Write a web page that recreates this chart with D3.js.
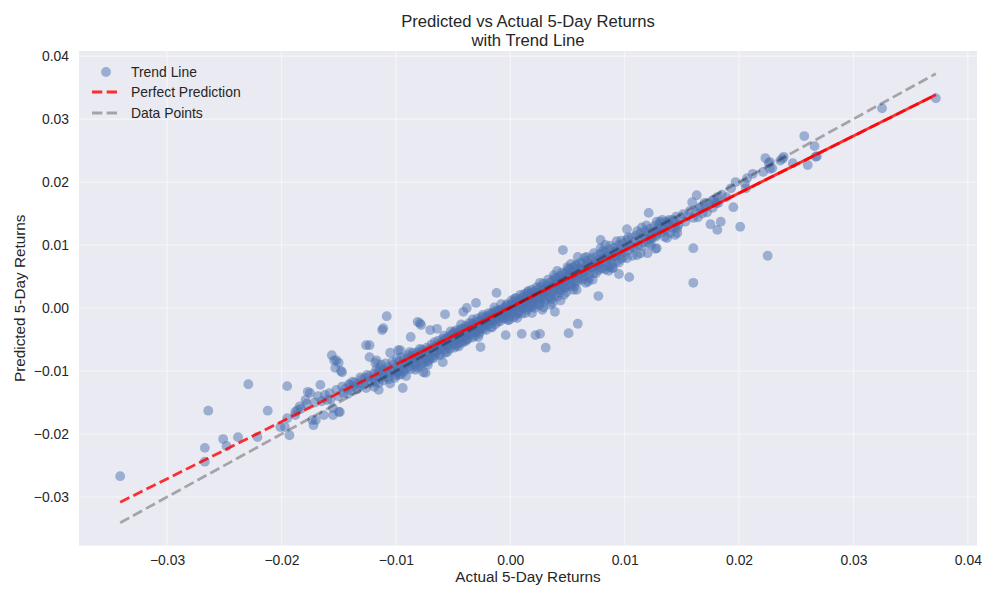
<!DOCTYPE html>
<html><head><meta charset="utf-8">
<script src="https://cdn.jsdelivr.net/npm/d3@7"></script>
<style>
body{margin:0;background:#fff}
text{font-family:"Liberation Sans",Arial,sans-serif;fill:#262626}
</style>
</head><body>
<svg id="chart" width="1000" height="600"></svg>
<script>
// ---- data (actual return, predicted return) ----
const tailPoints = [
[-0.0341,-0.0267],[-0.0264,-0.0163],[-0.0267,-0.0222],[-0.0267,-0.0244],[-0.0251,-0.0208],[-0.0248,-0.0219],[-0.0238,-0.0205],[-0.0229,-0.0121],[-0.0221,-0.0205],[-0.0212,-0.0163],
[-0.0201,-0.0189],[-0.0197,-0.0189],[-0.0193,-0.0202],[-0.0195,-0.0175],[-0.0195,-0.0124],[-0.0188,-0.0165],[-0.0186,-0.0162],[-0.0188,-0.0170],[-0.0184,-0.0156],[-0.0179,-0.0146],[-0.0177,-0.0133],[-0.0175,-0.0135],[-0.0173,-0.0178],[-0.0172,-0.0186],[-0.0170,-0.0178],[-0.0166,-0.0122],[-0.0163,-0.0170],[-0.0160,-0.0146],[-0.0155,-0.0159],[-0.0155,-0.0170],[-0.0156,-0.0075],[-0.0154,-0.0083],[-0.0152,-0.0083],[-0.0150,-0.0087],[-0.0153,-0.0095],[-0.0150,-0.0165],[-0.0149,-0.0165],[-0.0148,-0.0100],
[-0.0183,-0.0160],[-0.0178,-0.0152],[-0.0171,-0.0150],[-0.0168,-0.0140],[-0.0165,-0.0148],[-0.0162,-0.0138],[-0.0158,-0.0135],[-0.0157,-0.0145],[-0.0152,-0.0130],[-0.0150,-0.0140],[-0.0147,-0.0125],[-0.0146,-0.0135],
[-0.0147,-0.0102],[-0.0140,-0.0122],[-0.0138,-0.0117],[-0.0131,-0.0110],[-0.0125,-0.0106],[-0.0126,-0.0059],[-0.0123,-0.0059],[-0.0123,-0.0078],[-0.0117,-0.0083],[-0.0118,-0.0087],[-0.0114,-0.0095],[-0.0115,-0.0130],[-0.0112,-0.0035],[-0.0111,-0.0032],[-0.0108,-0.0013],[-0.0105,-0.0071],[-0.0099,-0.0103],[-0.0098,-0.0067],[-0.0096,-0.0067],[-0.0094,-0.0127]
];
const outlierPoints = [
[-0.0087,-0.0046],[-0.0081,-0.0022],[-0.0078,-0.0027],[-0.0070,-0.0035],[-0.0064,-0.0033],[-0.0076,-0.0102],[-0.0087,-0.0079],[-0.0057,-0.0010],[-0.0030,0.0008],[-0.0041,-0.0006],[-0.0038,0.0000],[-0.0026,-0.0062],[-0.0059,-0.0086],[-0.0004,-0.0043],[0.0010,-0.0041],[0.0022,-0.0043],[0.0026,-0.0041],[0.0031,-0.0063],[0.0019,-0.0008],[0.0028,-0.0003],[0.0039,-0.0006],[-0.0012,0.0024],[-0.0079,-0.0024],[-0.0074,-0.0103],[0.0051,-0.0040],[0.0059,-0.0025],[0.0077,0.0019],[0.0095,0.0054],[0.0104,0.0049],[0.0046,0.0092],[0.0059,0.0081],
[0.0121,0.0151],[0.0102,0.0125],[0.0079,0.0108],[0.0127,0.0094],[0.0114,0.0087],[0.0087,0.0065],[0.0066,0.0040],[0.0135,0.0113],[0.0137,0.0135],[0.0127,0.0121]
];
const upperPoints = [
[0.0223,0.0238],[0.0239,0.0240],[0.0226,0.0230],[0.0227,0.0221],[0.0221,0.0216],[0.0197,0.0200],[0.0207,0.0206],[0.0205,0.0198],[0.0225,0.0083],[0.0201,0.0129],[0.0195,0.0160],[0.0160,0.0095],[0.0181,0.0124],[0.0175,0.0133],[0.0184,0.0137],[0.0163,0.0179],[0.0159,0.0168],[0.0166,0.0160],[0.0164,0.0144],[0.0170,0.0167],[0.0177,0.0171],[0.0181,0.0176],[0.0182,0.0167],[0.0172,0.0152],[0.0177,0.0159],
[0.0128,0.0137],[0.0133,0.0140],[0.0138,0.0137],[0.0142,0.0140],[0.0144,0.0129],[0.0140,0.0119],[0.0146,0.0119],[0.0134,0.0124],[0.0127,0.0113],[0.0122,0.0113],[0.0128,0.0095],
[0.0160,0.0040],[0.0247,0.0230],[0.0260,0.0227],[0.0267,0.0240],[0.0266,0.0257],[0.0212,0.0213],[0.0206,0.0190],
[0.0131,0.0137],[0.0144,0.0116],[0.0146,0.0127],[0.0137,0.0111],[0.0128,0.0119],[0.0121,0.0103],[0.0111,0.0084],[0.0120,0.0087],[0.0102,0.0079],
[0.0372,0.0333],[0.0325,0.0317],[0.0257,0.0273],[0.0268,0.0241],[0.0238,0.0237],[0.0236,0.0234],[0.0227,0.0232],[0.0229,0.0222]
];
const bandNegPoints = [
[-0.0144,-0.0128],[-0.0142,-0.0136],[-0.0141,-0.0121],[-0.0139,-0.0131],[-0.0137,-0.0125],[-0.0136,-0.0118],[-0.0134,-0.0129],[-0.0133,-0.0120],[-0.0131,-0.0124],[-0.0130,-0.0114],[-0.0128,-0.0121],[-0.0127,-0.0111],[-0.0126,-0.0127],[-0.0124,-0.0116],[-0.0123,-0.0108],[-0.0121,-0.0119],[-0.0120,-0.0112],[-0.0119,-0.0104],[-0.0118,-0.0117],[-0.0116,-0.0108],[-0.0115,-0.0101],[-0.0114,-0.0112],[-0.0112,-0.0105],[-0.0111,-0.0098],[-0.0110,-0.0109],[-0.0108,-0.0101],[-0.0107,-0.0094],[-0.0106,-0.0113],[-0.0105,-0.0103],[-0.0104,-0.0096],[-0.0102,-0.0090],[-0.0101,-0.0100],[-0.0100,-0.0107],
[-0.0099,-0.0092],[-0.0098,-0.0101],[-0.0097,-0.0085],[-0.0096,-0.0094],[-0.0095,-0.0088],[-0.0094,-0.0099],[-0.0093,-0.0082],[-0.0092,-0.0090],[-0.0091,-0.0096],[-0.0090,-0.0079],[-0.0089,-0.0087],[-0.0088,-0.0093],[-0.0087,-0.0083],[-0.0086,-0.0076],[-0.0085,-0.0089],[-0.0084,-0.0080],[-0.0083,-0.0086],[-0.0082,-0.0074],[-0.0081,-0.0095],[-0.0080,-0.0078],[-0.0079,-0.0083],[-0.0078,-0.0071],[-0.0077,-0.0088],[-0.0076,-0.0075],[-0.0075,-0.0068],[-0.0074,-0.0080],[-0.0073,-0.0072],[-0.0072,-0.0085],[-0.0071,-0.0066],[-0.0070,-0.0074],[-0.0069,-0.0079],[-0.0068,-0.0063],[-0.0067,-0.0070],[-0.0066,-0.0076],[-0.0065,-0.0061],[-0.0064,-0.0068],[-0.0063,-0.0058],[-0.0062,-0.0073],[-0.0061,-0.0064],[-0.0060,-0.0055],[-0.0095,-0.0105],[-0.0088,-0.0070],[-0.0083,-0.0098],[-0.0079,-0.0065],[-0.0072,-0.0090],[-0.0066,-0.0054],
[-0.0059,-0.0060],[-0.0058,-0.0052],[-0.0057,-0.0066],[-0.0056,-0.0049],[-0.0056,-0.0057],[-0.0055,-0.0061],[-0.0054,-0.0045],[-0.0053,-0.0053],[-0.0052,-0.0058],[-0.0051,-0.0047],[-0.0050,-0.0041],[-0.0050,-0.0052],[-0.0049,-0.0063],[-0.0048,-0.0044],[-0.0047,-0.0050],[-0.0046,-0.0039],[-0.0045,-0.0047],[-0.0045,-0.0056],[-0.0044,-0.0036],[-0.0043,-0.0042],[-0.0042,-0.0049],[-0.0041,-0.0033],[-0.0040,-0.0040],[-0.0040,-0.0046],[-0.0039,-0.0053],[-0.0038,-0.0031],[-0.0037,-0.0037],[-0.0036,-0.0043],[-0.0035,-0.0028],[-0.0035,-0.0034],[-0.0034,-0.0040],[-0.0033,-0.0047],[-0.0032,-0.0026],[-0.0031,-0.0031],[-0.0030,-0.0036],[-0.0029,-0.0022],[-0.0029,-0.0029],[-0.0028,-0.0034],[-0.0027,-0.0041],[-0.0026,-0.0020],[-0.0025,-0.0025],[-0.0024,-0.0030],[-0.0023,-0.0016],[-0.0023,-0.0023],[-0.0022,-0.0028],[-0.0021,-0.0035],[-0.0020,-0.0013],[-0.0055,-0.0070],[-0.0052,-0.0037],[-0.0047,-0.0060],[-0.0043,-0.0026],[-0.0038,-0.0050],[-0.0033,-0.0018],[-0.0031,-0.0044],[-0.0026,-0.0033],[-0.0024,-0.0011],[-0.0058,-0.0044],[-0.0049,-0.0038],[-0.0042,-0.0055],[-0.0036,-0.0024],[-0.0028,-0.0046]
];
const bandCenterPoints = [
[-0.0020,-0.0021],[-0.0019,-0.0026],[-0.0019,-0.0014],[-0.0018,-0.0019],[-0.0017,-0.0009],[-0.0017,-0.0023],[-0.0016,-0.0015],[-0.0015,-0.0020],[-0.0015,-0.0008],[-0.0014,-0.0013],[-0.0013,-0.0018],[-0.0013,-0.0026],[-0.0012,-0.0006],[-0.0011,-0.0011],[-0.0011,-0.0016],[-0.0010,-0.0004],[-0.0009,-0.0009],[-0.0009,-0.0021],[-0.0008,-0.0013],[-0.0007,-0.0002],[-0.0007,-0.0007],[-0.0006,-0.0012],[-0.0005,-0.0017],[-0.0005,0.0001],[-0.0004,-0.0005],[-0.0003,-0.0010],[-0.0003,0.0004],[-0.0002,-0.0002],[-0.0001,-0.0007],[-0.0001,-0.0014],[0.0000,0.0002],[0.0001,-0.0003],[0.0001,0.0006],[0.0002,-0.0008],[0.0003,0.0003],[0.0003,0.0010],[0.0004,-0.0002],[0.0005,0.0005],[0.0005,-0.0011],[0.0006,0.0012],[0.0007,0.0001],[0.0007,0.0008],[0.0008,-0.0004],[0.0009,0.0014],[0.0009,0.0004],[0.0010,0.0010],[0.0011,-0.0001],[0.0011,0.0017],[0.0012,0.0007],[0.0013,0.0013],[0.0013,0.0001],[0.0014,0.0020],[0.0015,0.0010],[0.0015,-0.0003],[0.0016,0.0016],[0.0017,0.0006],[0.0017,0.0023],[0.0018,0.0013],[0.0019,0.0002],[0.0019,0.0019],[0.0020,0.0009],[-0.0016,-0.0031],[-0.0008,0.0006],[-0.0002,-0.0019],[0.0004,0.0015],[0.0010,-0.0009],[0.0016,0.0027],[-0.0014,0.0001],[0.0006,-0.0016],[0.0012,0.0022]
];
const bandPosPoints = [
[0.0021,0.0016],[0.0021,0.0026],[0.0022,0.0006],[0.0023,0.0021],[0.0024,0.0013],[0.0024,0.0030],[0.0025,0.0018],[0.0026,0.0008],[0.0027,0.0025],[0.0027,0.0034],[0.0028,0.0015],[0.0029,0.0022],[0.0030,0.0030],[0.0030,0.0010],[0.0031,0.0026],[0.0032,0.0036],[0.0033,0.0019],[0.0033,0.0029],[0.0034,0.0040],[0.0035,0.0024],[0.0036,0.0014],[0.0036,0.0033],[0.0037,0.0043],[0.0038,0.0028],[0.0039,0.0037],[0.0039,0.0020],[0.0040,0.0046],[0.0041,0.0032],[0.0042,0.0041],[0.0042,0.0024],[0.0043,0.0050],[0.0044,0.0036],[0.0045,0.0045],[0.0045,0.0028],[0.0046,0.0053],[0.0047,0.0040],[0.0048,0.0049],[0.0048,0.0032],[0.0049,0.0057],[0.0050,0.0044],[0.0051,0.0053],[0.0051,0.0036],[0.0052,0.0061],[0.0053,0.0048],[0.0054,0.0057],[0.0054,0.0040],[0.0055,0.0064],[0.0056,0.0051],[0.0057,0.0060],[0.0057,0.0043],[0.0058,0.0068],[0.0059,0.0055],[0.0060,0.0047],[0.0026,0.0040],[0.0035,0.0005],[0.0041,0.0059],[0.0047,0.0021],[0.0053,0.0070],[0.0056,0.0034],[0.0029,0.0001],[0.0038,0.0052],[0.0044,0.0012],[0.0050,0.0065],[0.0058,0.0029],
[0.0061,0.0062],[0.0062,0.0054],[0.0063,0.0071],[0.0064,0.0058],[0.0065,0.0049],[0.0066,0.0066],[0.0067,0.0075],[0.0068,0.0061],[0.0069,0.0053],[0.0070,0.0070],[0.0071,0.0079],[0.0072,0.0064],[0.0073,0.0056],[0.0074,0.0073],[0.0075,0.0082],[0.0076,0.0068],[0.0077,0.0060],[0.0078,0.0077],[0.0079,0.0086],[0.0080,0.0071],[0.0081,0.0063],[0.0082,0.0080],[0.0083,0.0089],[0.0084,0.0075],[0.0085,0.0067],[0.0086,0.0084],[0.0087,0.0093],[0.0088,0.0078],[0.0089,0.0070],[0.0090,0.0087],[0.0091,0.0096],[0.0092,0.0082],[0.0093,0.0074],[0.0094,0.0091],[0.0095,0.0100],[0.0096,0.0086],[0.0097,0.0078],[0.0098,0.0094],[0.0099,0.0103],[0.0100,0.0089],[0.0065,0.0080],[0.0072,0.0045],[0.0079,0.0095],[0.0086,0.0059],[0.0093,0.0106],[0.0068,0.0042],[0.0083,0.0100],[0.0090,0.0064],
[0.0101,0.0097],[0.0102,0.0108],[0.0104,0.0092],[0.0105,0.0101],[0.0106,0.0112],[0.0108,0.0096],[0.0109,0.0106],[0.0110,0.0115],[0.0112,0.0100],[0.0113,0.0110],[0.0114,0.0119],[0.0116,0.0104],[0.0117,0.0114],[0.0118,0.0122],[0.0120,0.0108],[0.0121,0.0118],[0.0122,0.0126],[0.0124,0.0112],[0.0125,0.0121],[0.0126,0.0130],[0.0128,0.0116],[0.0129,0.0125],[0.0130,0.0133],[0.0132,0.0120],[0.0133,0.0128],[0.0135,0.0136],[0.0136,0.0124],[0.0138,0.0132],[0.0139,0.0140],[0.0107,0.0083],[0.0115,0.0128],[0.0123,0.0100],
[0.0141,0.0128],[0.0143,0.0137],[0.0145,0.0145],[0.0147,0.0132],[0.0149,0.0141],[0.0151,0.0149],[0.0153,0.0137],[0.0155,0.0146],[0.0157,0.0154],[0.0160,0.0143],[0.0162,0.0152],[0.0165,0.0158],[0.0168,0.0150],[0.0171,0.0160],[0.0174,0.0165],[0.0178,0.0172],[0.0180,0.0166],[0.0185,0.0180],[0.0189,0.0176],[0.0193,0.0190]
];
const bandExtraPoints = [
[-0.0119,-0.0125],[-0.0117,-0.0097],[-0.0115,-0.0119],[-0.0113,-0.0090],[-0.0111,-0.0115],[-0.0109,-0.0088],[-0.0107,-0.0110],[-0.0105,-0.0120],[-0.0103,-0.0085],[-0.0101,-0.0111],[-0.0099,-0.0080],[-0.0097,-0.0106],[-0.0095,-0.0078],[-0.0093,-0.0101],[-0.0091,-0.0108],[-0.0089,-0.0075],[-0.0087,-0.0097],[-0.0085,-0.0071],[-0.0083,-0.0092],[-0.0081,-0.0070],[-0.0079,-0.0092],[-0.0077,-0.0066],[-0.0075,-0.0087],[-0.0073,-0.0063],[-0.0071,-0.0082],[-0.0069,-0.0058],[-0.0067,-0.0080],[-0.0065,-0.0070],[-0.0063,-0.0052],[-0.0061,-0.0075],[-0.0059,-0.0049],[-0.0057,-0.0071],[-0.0055,-0.0048],[-0.0053,-0.0065],[-0.0051,-0.0042],[-0.0049,-0.0058],[-0.0047,-0.0035],[-0.0045,-0.0061],[-0.0043,-0.0033],[-0.0041,-0.0052],[-0.0039,-0.0028],[-0.0037,-0.0049],[-0.0035,-0.0040],[-0.0033,-0.0024],[-0.0031,-0.0039],[-0.0029,-0.0017],[-0.0027,-0.0037],[-0.0025,-0.0014],[-0.0023,-0.0033],[-0.0021,-0.0019],[-0.0019,-0.0008],[-0.0017,-0.0030],[-0.0015,-0.0012],[-0.0013,-0.0004],[-0.0011,-0.0022],[-0.0009,-0.0003],[-0.0007,-0.0016],[-0.0005,-0.0008],[-0.0003,0.0006],[-0.0001,-0.0019],
[0.0001,0.0012],[0.0003,-0.0015],[0.0005,0.0016],[0.0007,-0.0008],[0.0009,0.0021],[0.0011,0.0005],[0.0013,-0.0008],[0.0015,0.0025],[0.0017,0.0001],[0.0019,0.0029],[0.0021,0.0000],[0.0023,0.0033],[0.0025,0.0004],[0.0027,0.0016],[0.0029,0.0039],[0.0031,0.0014],[0.0033,0.0045],[0.0035,0.0017],[0.0037,0.0008],[0.0039,0.0048],[0.0041,0.0018],[0.0043,0.0030],[0.0045,0.0056],[0.0047,0.0033],[0.0049,0.0025],[0.0051,0.0062],[0.0053,0.0035],[0.0055,0.0029],[0.0057,0.0068],[0.0059,0.0042],[0.0061,0.0072],[0.0063,0.0045],[0.0065,0.0058],[0.0067,0.0081],[0.0069,0.0047],[0.0071,0.0065],[0.0073,0.0087],[0.0075,0.0055],[0.0077,0.0070],[0.0079,0.0064],[0.0081,0.0091],[0.0083,0.0061],[0.0085,0.0078],[0.0087,0.0099],[0.0089,0.0063],[0.0091,0.0083],[0.0093,0.0088],[0.0095,0.0072],[0.0097,0.0107],[0.0099,0.0081],[0.0103,0.0112],[0.0107,0.0097],[0.0111,0.0122],[0.0115,0.0098],[0.0119,0.0131],[0.0123,0.0109],
[-0.0060,-0.0057],[-0.0054,-0.0050],[-0.0048,-0.0046],[-0.0044,-0.0041],[-0.0039,-0.0035],[-0.0034,-0.0033],[-0.0030,-0.0027],[-0.0025,-0.0022],[-0.0021,-0.0020],[-0.0018,-0.0016],[-0.0012,-0.0012],[-0.0006,-0.0005],[-0.0002,-0.0003],[0.0002,0.0003],[0.0008,0.0008],[0.0014,0.0013],[0.0018,0.0018],[0.0023,0.0024],[0.0028,0.0027],[0.0032,0.0031],[0.0037,0.0035],[0.0042,0.0040],[0.0046,0.0045],[0.0052,0.0050],[0.0056,0.0055],[0.0062,0.0061],[0.0068,0.0067],[0.0074,0.0071],[0.0080,0.0078],[0.0086,0.0083],[0.0092,0.0090]
];
const trendCoef = [0.907, 0.0001];         // slope, intercept of fitted trend
const trendSolidFrom = -0.0095;            // dense part where the trend line looks solid
const xTicks = [-0.03,-0.02,-0.01,0.00,0.01,0.02,0.03,0.04];
const yTicks = [-0.03,-0.02,-0.01,0.00,0.01,0.02,0.03,0.04];
const xTickLabels = ["\u22120.03","\u22120.02","\u22120.01","0.00","0.01","0.02","0.03","0.04"];
const yTickLabels = ["\u22120.03","\u22120.02","\u22120.01","0.00","0.01","0.02","0.03","0.04"];
const legendLabels = ["Trend Line","Perfect Prediction","Data Points"];
const titleLines = ["Predicted vs Actual 5-Day Returns","with Trend Line"];
const xLabel = "Actual 5-Day Returns";
const yLabel = "Predicted 5-Day Returns";

// ---- drawing ----
const points = [].concat(tailPoints, outlierPoints, upperPoints, bandNegPoints, bandCenterPoints, bandPosPoints, bandExtraPoints);
const svg = d3.select("#chart");
const P = {l:79, r:977, t:51, b:545.5};
const x = d3.scaleLinear().domain([-0.0377,0.0408]).range([P.l,P.r]);
const y = d3.scaleLinear().domain([-0.0377,0.0408]).range([P.b,P.t]);
const BG = "#EAEAF2", BLUE = "#4C72B0";

svg.append("rect").attr("width",1000).attr("height",600).attr("fill","#fff");
svg.append("rect").attr("x",P.l).attr("y",P.t).attr("width",P.r-P.l).attr("height",P.b-P.t).attr("fill",BG);

svg.append("g").selectAll("line").data(xTicks).join("line")
  .attr("x1",d=>x(d)).attr("x2",d=>x(d)).attr("y1",P.t).attr("y2",P.b)
  .attr("stroke","#fff").attr("stroke-opacity",0.5).attr("stroke-width",1.2);
svg.append("g").selectAll("line").data(yTicks).join("line")
  .attr("y1",d=>y(d)).attr("y2",d=>y(d)).attr("x1",P.l).attr("x2",P.r)
  .attr("stroke","#fff").attr("stroke-opacity",0.5).attr("stroke-width",1.2);

svg.append("clipPath").attr("id","pc").append("rect")
  .attr("x",P.l).attr("y",P.t).attr("width",P.r-P.l).attr("height",P.b-P.t);
const plot = svg.append("g").attr("clip-path","url(#pc)");

plot.append("g").selectAll("circle").data(points).join("circle")
  .attr("cx",d=>x(d[0])).attr("cy",d=>y(d[1])).attr("r",4.9)
  .attr("fill",BLUE).attr("fill-opacity",0.5);

const xExt = d3.extent(points,d=>d[0]);
const trend = v => trendCoef[0]*v + trendCoef[1];
const line = d3.line().x(d=>x(d[0])).y(d=>y(d[1]));
const DASH = "10.3,4.4";
plot.append("path").attr("d",line([[xExt[0],trend(xExt[0])],[xExt[1],trend(xExt[1])]]))
  .attr("fill","none").attr("stroke","red").attr("stroke-opacity",0.8).attr("stroke-width",2.78)
  .attr("stroke-dasharray",DASH);
plot.append("path").attr("d",line([[trendSolidFrom,trend(trendSolidFrom)],[xExt[1],trend(xExt[1])]]))
  .attr("fill","none").attr("stroke","red").attr("stroke-opacity",0.8).attr("stroke-width",2.78);
plot.append("path").attr("d",line([[xExt[0],xExt[0]],[xExt[1],xExt[1]]]))
  .attr("fill","none").attr("stroke","#000").attr("stroke-opacity",0.3).attr("stroke-width",2.78)
  .attr("stroke-dasharray",DASH);

// axes
const xAxis = d3.axisBottom(x).tickValues(xTicks).tickSize(0).tickPadding(10)
  .tickFormat((d,i)=>xTickLabels[i]);
const gx = svg.append("g").attr("transform",`translate(0,${P.b})`).call(xAxis);
const yAxis = d3.axisLeft(y).tickValues(yTicks).tickSize(0).tickPadding(10)
  .tickFormat((d,i)=>yTickLabels[i]);
const gy = svg.append("g").attr("transform",`translate(${P.l},0)`).call(yAxis);
[gx,gy].forEach(g=>{
  g.select(".domain").remove();
  g.selectAll("text").attr("font-family","Liberation Sans, Arial, sans-serif")
   .attr("font-size","13.9px").attr("fill","#262626");
});

svg.append("text").attr("x",(P.l+P.r)/2).attr("y",582).attr("text-anchor","middle")
  .attr("font-size","15.3px").text(xLabel);
svg.append("text").attr("transform",`translate(25,${(P.t+P.b)/2}) rotate(-90)`)
  .attr("text-anchor","middle").attr("font-size","15.3px").text(yLabel);

const title = svg.append("text").attr("text-anchor","middle").attr("font-size","16.67px");
titleLines.forEach((t,i)=>title.append("tspan").attr("x",(P.l+P.r)/2).attr("y",27+i*19).text(t));

// legend
const lg = svg.append("g");
const ly = [72,92,113];
lg.append("circle").attr("cx",106).attr("cy",ly[0]).attr("r",4.9).attr("fill",BLUE).attr("fill-opacity",0.5);
lg.append("line").attr("x1",92).attr("x2",120).attr("y1",ly[1]).attr("y2",ly[1])
  .attr("stroke","red").attr("stroke-opacity",0.8).attr("stroke-width",2.78).attr("stroke-dasharray",DASH);
lg.append("line").attr("x1",92).attr("x2",120).attr("y1",ly[2]).attr("y2",ly[2])
  .attr("stroke","#000").attr("stroke-opacity",0.3).attr("stroke-width",2.78).attr("stroke-dasharray",DASH);
legendLabels.forEach((t,i)=>lg.append("text").attr("x",131).attr("y",ly[i]).attr("dy","0.35em")
  .attr("font-size","13.9px").text(t));
</script>
</body></html>
